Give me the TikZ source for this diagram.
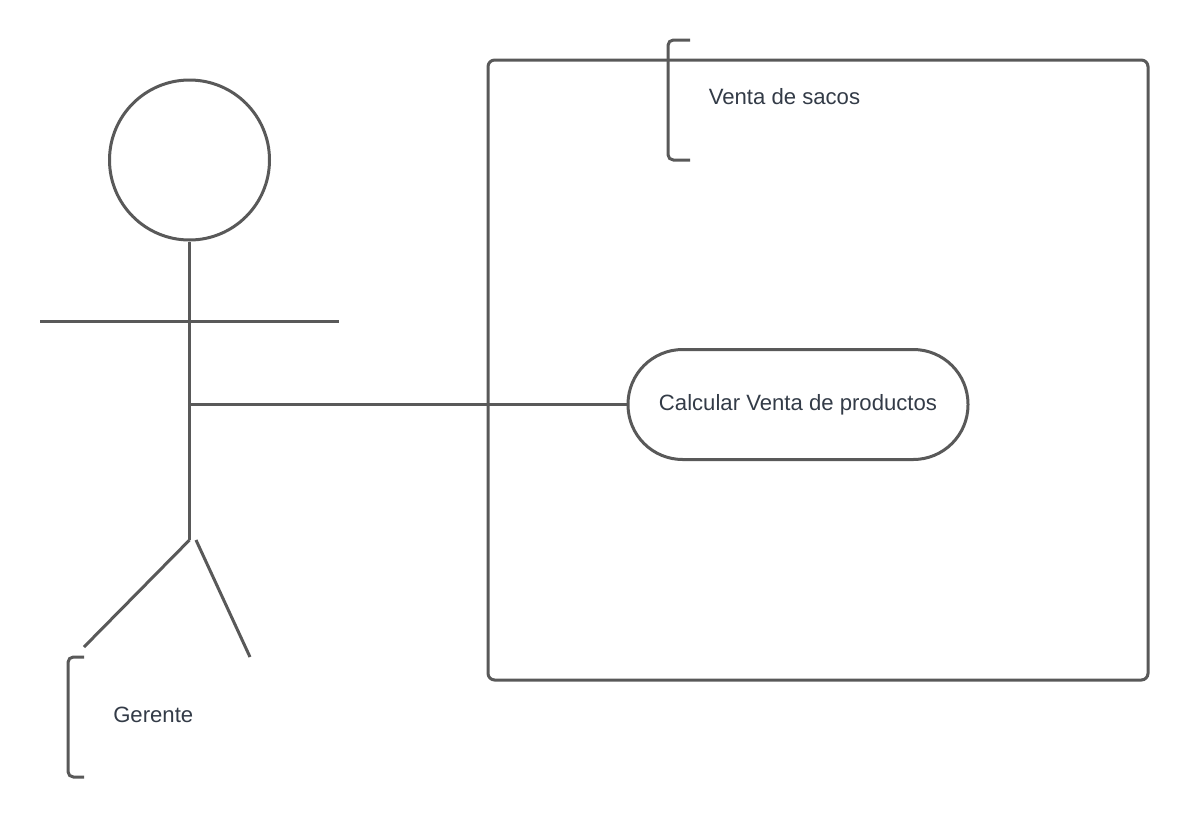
\documentclass[tikz,border=0pt]{standalone}
\usepackage{fontspec}
\setmainfont{Liberation Sans}
\usetikzlibrary{positioning}
\definecolor{linegray}{HTML}{595959}
\definecolor{textgray}{HTML}{333B47}
\tikzset{
  x=0.75pt,y=-0.75pt,
  stick/.style={draw=linegray,line width=2.25pt},
  tag/.style={text=textgray,font=\fontsize{16.6pt}{20pt}\selectfont,inner sep=0pt},
  usecase/.style={stick,rounded corners=41pt,minimum width=255pt,minimum height=82.5pt,inner sep=0pt,text=textgray,font=\fontsize{16.6pt}{20pt}\selectfont},
}
\begin{document}
\begin{tikzpicture}
\useasboundingbox (0,0) rectangle (1189,818);
%draw system box
\draw [stick,rounded corners=5pt] (488,60) rectangle (1148,680);
%draw system bracket
\draw [stick,rounded corners=4pt] (690,40) -- (668,40) -- (668,160) -- (690,160);
\node [tag,anchor=west] (system) at (708.5,97) {Venta de sacos};
%draw actor
\node [stick,circle,minimum size=120pt,inner sep=0pt] (head) at (189.5,160) {};
\coordinate (hip) at (189.5,540);
\coordinate (waist) at (189.5,404.5);
\draw [stick] (head.south) -- (hip);
\coordinate (armL) at (40,321.5);
\coordinate (armR) at (339,321.5);
\draw [stick] (armL) -- (armR);
\coordinate (footL) at (84,647);
\draw [stick] (hip) -- (footL);
\coordinate (legR) at (196,540);
\coordinate (footR) at (250,657);
\draw [stick] (legR) -- (footR);
%draw actor bracket
\draw [stick,rounded corners=4pt] (84,657) -- (68,657) -- (68,777) -- (84,777);
\node [tag,anchor=west] (actor) at (113,715) {Gerente};
%draw use case
\node [usecase] (calc) at (798,404.5) {Calcular Venta de productos};
\draw [stick] (waist) -- (calc.west);
\end{tikzpicture}
\end{document}
